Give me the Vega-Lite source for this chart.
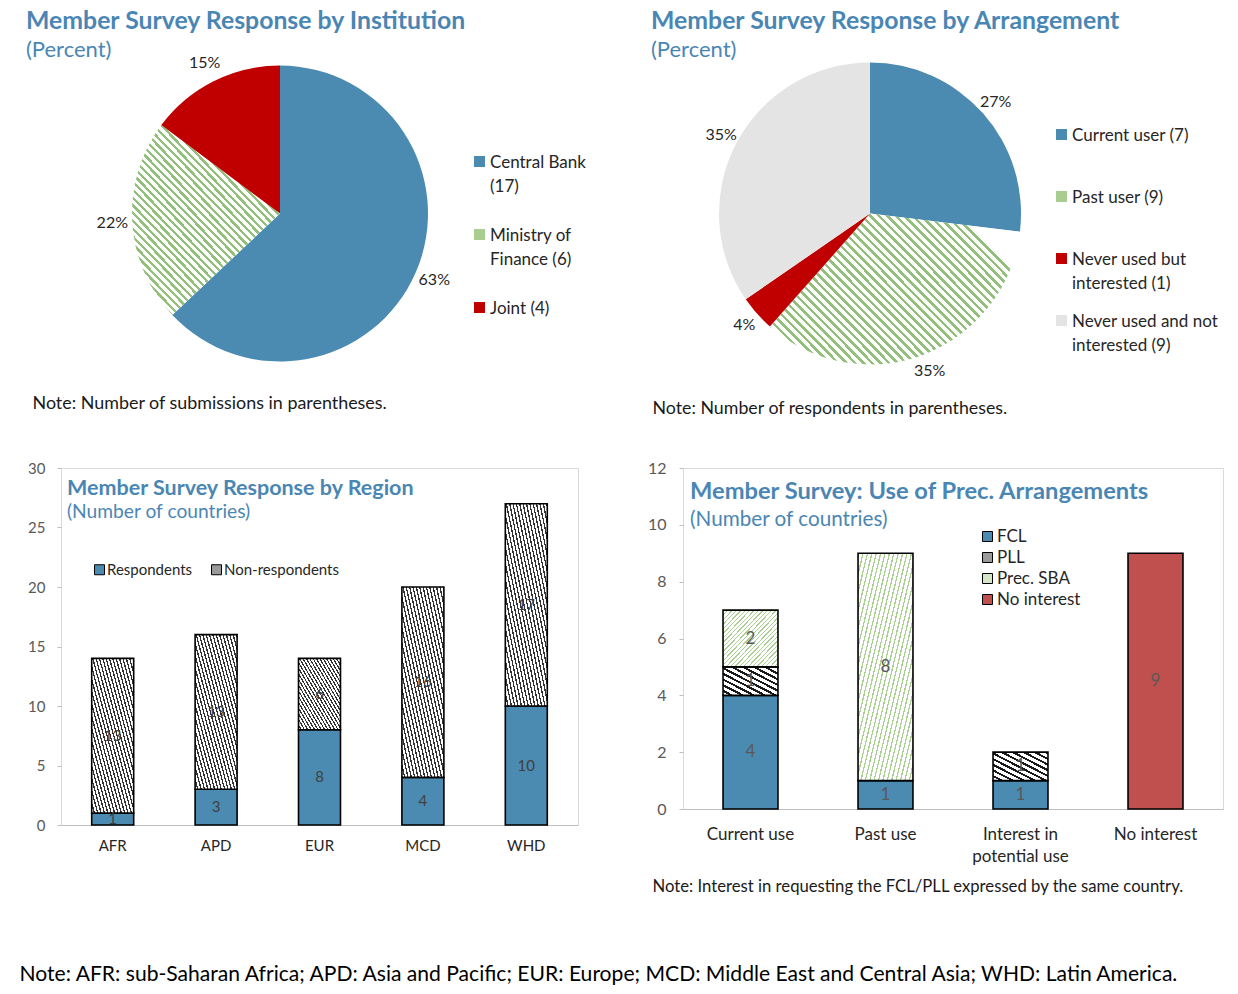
{
  "$schema": "https://vega.github.io/schema/vega-lite/v6.json",
  "background": "white",
  "padding": {"left": 18, "top": 9, "right": 4, "bottom": 4},
  "columns": 2,
  "bounds": "flush",
  "align": "each",
  "spacing": {"row": 106, "column": 105},
  "resolve": {"scale": {"fill": "independent", "theta": "independent"}, "legend": {"fill": "independent"}},
  "config": {
    "font": "Lato",
    "view": {"stroke": null},
    "axis": {"grid": false, "labelFont": "Lato", "titleFont": "Lato"},
    "legend": {"labelFont": "Lato", "padding": 0},
    "title": {"font": "Lato", "subtitleFont": "Lato", "color": "#4a86b4", "subtitleColor": "#4a86b4", "fontWeight": "bold", "anchor": "start", "frame": "group"}
  },
  "concat": [
    {
      "width": 438,
      "height": 297,
      "title": {"text": "Member Survey Response by Institution", "subtitle": "(Percent)", "fontSize": 24.8, "subtitleFontSize": 22, "subtitlePadding": 6.4, "dx": -35, "offset": -6},
      "data": {"values": [
        {"cat": "Central Bank (17)", "n": 17, "pct": "63%"},
        {"cat": "Ministry of Finance (6)", "n": 6, "pct": "22%"},
        {"cat": "Joint (4)", "n": 4, "pct": "15%"}
      ]},
      "layer": [
        {
          "mark": {"type": "arc", "outerRadius": 148},
          "encoding": {
            "theta": {"field": "n", "type": "quantitative", "stack": true},
            "order": {"field": "n", "type": "quantitative", "sort": "descending"},
            "fill": {
              "field": "cat", "type": "nominal",
              "scale": {"domain": ["Central Bank (17)", "Ministry of Finance (6)", "Joint (4)"], "range": ["#4b8bb1", "#a9cc8f", "#c00000"]},
              "condition": {"test": "datum.cat === 'Ministry of Finance (6)'", "value": {"gradient": "linear", "x1": 0, "y1": 1, "x2": 0.8, "y2": 0, "stops": [
                {"offset":0,"color":"#92c07a"},{"offset":0.0105,"color":"#92c07a"},{"offset":0.0105,"color":"#fff"},{"offset":0.025,"color":"#fff"},
                {"offset":0.025,"color":"#92c07a"},{"offset":0.0355,"color":"#92c07a"},{"offset":0.0355,"color":"#fff"},{"offset":0.05,"color":"#fff"},
                {"offset":0.05,"color":"#92c07a"},{"offset":0.0605,"color":"#92c07a"},{"offset":0.0605,"color":"#fff"},{"offset":0.075,"color":"#fff"},
                {"offset":0.075,"color":"#92c07a"},{"offset":0.0855,"color":"#92c07a"},{"offset":0.0855,"color":"#fff"},{"offset":0.1,"color":"#fff"},
                {"offset":0.1,"color":"#92c07a"},{"offset":0.1105,"color":"#92c07a"},{"offset":0.1105,"color":"#fff"},{"offset":0.125,"color":"#fff"},
                {"offset":0.125,"color":"#92c07a"},{"offset":0.1355,"color":"#92c07a"},{"offset":0.1355,"color":"#fff"},{"offset":0.15,"color":"#fff"},
                {"offset":0.15,"color":"#92c07a"},{"offset":0.1605,"color":"#92c07a"},{"offset":0.1605,"color":"#fff"},{"offset":0.175,"color":"#fff"},
                {"offset":0.175,"color":"#92c07a"},{"offset":0.1855,"color":"#92c07a"},{"offset":0.1855,"color":"#fff"},{"offset":0.2,"color":"#fff"},
                {"offset":0.2,"color":"#92c07a"},{"offset":0.2105,"color":"#92c07a"},{"offset":0.2105,"color":"#fff"},{"offset":0.225,"color":"#fff"},
                {"offset":0.225,"color":"#92c07a"},{"offset":0.2355,"color":"#92c07a"},{"offset":0.2355,"color":"#fff"},{"offset":0.25,"color":"#fff"},
                {"offset":0.25,"color":"#92c07a"},{"offset":0.2605,"color":"#92c07a"},{"offset":0.2605,"color":"#fff"},{"offset":0.275,"color":"#fff"},
                {"offset":0.275,"color":"#92c07a"},{"offset":0.2855,"color":"#92c07a"},{"offset":0.2855,"color":"#fff"},{"offset":0.3,"color":"#fff"},
                {"offset":0.3,"color":"#92c07a"},{"offset":0.3105,"color":"#92c07a"},{"offset":0.3105,"color":"#fff"},{"offset":0.325,"color":"#fff"},
                {"offset":0.325,"color":"#92c07a"},{"offset":0.3355,"color":"#92c07a"},{"offset":0.3355,"color":"#fff"},{"offset":0.35,"color":"#fff"},
                {"offset":0.35,"color":"#92c07a"},{"offset":0.3605,"color":"#92c07a"},{"offset":0.3605,"color":"#fff"},{"offset":0.375,"color":"#fff"},
                {"offset":0.375,"color":"#92c07a"},{"offset":0.3855,"color":"#92c07a"},{"offset":0.3855,"color":"#fff"},{"offset":0.4,"color":"#fff"},
                {"offset":0.4,"color":"#92c07a"},{"offset":0.4105,"color":"#92c07a"},{"offset":0.4105,"color":"#fff"},{"offset":0.425,"color":"#fff"},
                {"offset":0.425,"color":"#92c07a"},{"offset":0.4355,"color":"#92c07a"},{"offset":0.4355,"color":"#fff"},{"offset":0.45,"color":"#fff"},
                {"offset":0.45,"color":"#92c07a"},{"offset":0.4605,"color":"#92c07a"},{"offset":0.4605,"color":"#fff"},{"offset":0.475,"color":"#fff"},
                {"offset":0.475,"color":"#92c07a"},{"offset":0.4855,"color":"#92c07a"},{"offset":0.4855,"color":"#fff"},{"offset":0.5,"color":"#fff"},
                {"offset":0.5,"color":"#92c07a"},{"offset":0.5105,"color":"#92c07a"},{"offset":0.5105,"color":"#fff"},{"offset":0.525,"color":"#fff"},
                {"offset":0.525,"color":"#92c07a"},{"offset":0.5355,"color":"#92c07a"},{"offset":0.5355,"color":"#fff"},{"offset":0.55,"color":"#fff"},
                {"offset":0.55,"color":"#92c07a"},{"offset":0.5605,"color":"#92c07a"},{"offset":0.5605,"color":"#fff"},{"offset":0.575,"color":"#fff"},
                {"offset":0.575,"color":"#92c07a"},{"offset":0.5855,"color":"#92c07a"},{"offset":0.5855,"color":"#fff"},{"offset":0.6,"color":"#fff"},
                {"offset":0.6,"color":"#92c07a"},{"offset":0.6105,"color":"#92c07a"},{"offset":0.6105,"color":"#fff"},{"offset":0.625,"color":"#fff"},
                {"offset":0.625,"color":"#92c07a"},{"offset":0.6355,"color":"#92c07a"},{"offset":0.6355,"color":"#fff"},{"offset":0.65,"color":"#fff"},
                {"offset":0.65,"color":"#92c07a"},{"offset":0.6605,"color":"#92c07a"},{"offset":0.6605,"color":"#fff"},{"offset":0.675,"color":"#fff"},
                {"offset":0.675,"color":"#92c07a"},{"offset":0.6855,"color":"#92c07a"},{"offset":0.6855,"color":"#fff"},{"offset":0.7,"color":"#fff"},
                {"offset":0.7,"color":"#92c07a"},{"offset":0.7105,"color":"#92c07a"},{"offset":0.7105,"color":"#fff"},{"offset":0.725,"color":"#fff"},
                {"offset":0.725,"color":"#92c07a"},{"offset":0.7355,"color":"#92c07a"},{"offset":0.7355,"color":"#fff"},{"offset":0.75,"color":"#fff"},
                {"offset":0.75,"color":"#92c07a"},{"offset":0.7605,"color":"#92c07a"},{"offset":0.7605,"color":"#fff"},{"offset":0.775,"color":"#fff"},
                {"offset":0.775,"color":"#92c07a"},{"offset":0.7855,"color":"#92c07a"},{"offset":0.7855,"color":"#fff"},{"offset":0.8,"color":"#fff"},
                {"offset":0.8,"color":"#92c07a"},{"offset":0.8105,"color":"#92c07a"},{"offset":0.8105,"color":"#fff"},{"offset":0.825,"color":"#fff"},
                {"offset":0.825,"color":"#92c07a"},{"offset":0.8355,"color":"#92c07a"},{"offset":0.8355,"color":"#fff"},{"offset":0.85,"color":"#fff"},
                {"offset":0.85,"color":"#92c07a"},{"offset":0.8605,"color":"#92c07a"},{"offset":0.8605,"color":"#fff"},{"offset":0.875,"color":"#fff"},
                {"offset":0.875,"color":"#92c07a"},{"offset":0.8855,"color":"#92c07a"},{"offset":0.8855,"color":"#fff"},{"offset":0.9,"color":"#fff"},
                {"offset":0.9,"color":"#92c07a"},{"offset":0.9105,"color":"#92c07a"},{"offset":0.9105,"color":"#fff"},{"offset":0.925,"color":"#fff"},
                {"offset":0.925,"color":"#92c07a"},{"offset":0.9355,"color":"#92c07a"},{"offset":0.9355,"color":"#fff"},{"offset":0.95,"color":"#fff"},
                {"offset":0.95,"color":"#92c07a"},{"offset":0.9605,"color":"#92c07a"},{"offset":0.9605,"color":"#fff"},{"offset":0.975,"color":"#fff"},
                {"offset":0.975,"color":"#92c07a"},{"offset":0.9855,"color":"#92c07a"},{"offset":0.9855,"color":"#fff"},{"offset":1,"color":"#fff"}
              ]}},
              "legend": {
                "title": null, "orient": "none", "legendX": 410, "legendY": 88,
                "symbolType": "square", "symbolSize": 121, "symbolStrokeWidth": 0,
                "labelFontSize": 17, "labelColor": "#262626", "labelOffset": 2, "labelLimit": 300,
                "rowPadding": 31, "gridAlign": "all", "labelBaseline": "top",
                "labelExpr": "datum.label === 'Central Bank (17)' ? ['Central Bank', '(17)'] : datum.label === 'Ministry of Finance (6)' ? ['Ministry of', 'Finance (6)'] : datum.label",
                "encode": {"labels": {"update": {"dy": {"value": -7}, "lineHeight": {"value": 24}}}}
              }
            }
          }
        },
        {
          "mark": {"type": "text", "radius": 168, "fontSize": 16, "color": "#262626"},
          "encoding": {
            "theta": {"field": "n", "type": "quantitative", "stack": true},
            "order": {"field": "n", "type": "quantitative", "sort": "descending"},
            "detail": {"field": "cat", "type": "nominal"},
            "text": {"field": "pct", "type": "nominal"}
          }
        },
        {
          "mark": {"type": "point", "opacity": 0},
          "encoding": {
            "x": {"field": "n", "type": "quantitative", "axis": {
              "title": "Note: Number of submissions in parentheses.", "labels": false, "ticks": false, "domain": false, "grid": false,
              "titleAnchor": "start", "titleAlign": "left", "titleBaseline": "middle", "titleX": -29, "titleY": 41,
              "titleFontSize": 17.9, "titleFontWeight": "normal", "titleColor": "#1a1a1a", "titleLimit": 1000}}
          }
        }
      ]
    },
    {
      "width": 374,
      "height": 297,
      "title": {"text": "Member Survey Response by Arrangement", "subtitle": "(Percent)", "fontSize": 24.8, "subtitleFontSize": 22, "subtitlePadding": 5.4, "dx": -32, "offset": 2},
      "data": {"values": [
        {"cat": "Current user (7)", "n": 7, "pct": "27%", "k": 1},
        {"cat": "Past user (9)", "n": 9, "pct": "35%", "k": 2},
        {"cat": "Never used but interested (1)", "n": 1, "pct": "4%", "k": 3},
        {"cat": "Never used and not interested (9)", "n": 9, "pct": "35%", "k": 4}
      ]},
      "layer": [
        {
          "mark": {"type": "arc", "outerRadius": 151},
          "encoding": {
            "theta": {"field": "n", "type": "quantitative", "stack": true},
            "order": {"field": "k", "type": "quantitative"},
            "fill": {
              "field": "cat", "type": "nominal",
              "scale": {"domain": ["Current user (7)", "Past user (9)", "Never used but interested (1)", "Never used and not interested (9)"], "range": ["#4b8bb1", "#a9cc8f", "#c00000", "#e4e4e4"]},
              "condition": {"test": "datum.cat === 'Past user (9)'", "value": {"gradient": "linear", "x1": 0, "y1": 1, "x2": 1, "y2": 0.4, "stops": [
                {"offset":0,"color":"#92c07a"},{"offset":0.0105,"color":"#92c07a"},{"offset":0.0105,"color":"#fff"},{"offset":0.025,"color":"#fff"},
                {"offset":0.025,"color":"#92c07a"},{"offset":0.0355,"color":"#92c07a"},{"offset":0.0355,"color":"#fff"},{"offset":0.05,"color":"#fff"},
                {"offset":0.05,"color":"#92c07a"},{"offset":0.0605,"color":"#92c07a"},{"offset":0.0605,"color":"#fff"},{"offset":0.075,"color":"#fff"},
                {"offset":0.075,"color":"#92c07a"},{"offset":0.0855,"color":"#92c07a"},{"offset":0.0855,"color":"#fff"},{"offset":0.1,"color":"#fff"},
                {"offset":0.1,"color":"#92c07a"},{"offset":0.1105,"color":"#92c07a"},{"offset":0.1105,"color":"#fff"},{"offset":0.125,"color":"#fff"},
                {"offset":0.125,"color":"#92c07a"},{"offset":0.1355,"color":"#92c07a"},{"offset":0.1355,"color":"#fff"},{"offset":0.15,"color":"#fff"},
                {"offset":0.15,"color":"#92c07a"},{"offset":0.1605,"color":"#92c07a"},{"offset":0.1605,"color":"#fff"},{"offset":0.175,"color":"#fff"},
                {"offset":0.175,"color":"#92c07a"},{"offset":0.1855,"color":"#92c07a"},{"offset":0.1855,"color":"#fff"},{"offset":0.2,"color":"#fff"},
                {"offset":0.2,"color":"#92c07a"},{"offset":0.2105,"color":"#92c07a"},{"offset":0.2105,"color":"#fff"},{"offset":0.225,"color":"#fff"},
                {"offset":0.225,"color":"#92c07a"},{"offset":0.2355,"color":"#92c07a"},{"offset":0.2355,"color":"#fff"},{"offset":0.25,"color":"#fff"},
                {"offset":0.25,"color":"#92c07a"},{"offset":0.2605,"color":"#92c07a"},{"offset":0.2605,"color":"#fff"},{"offset":0.275,"color":"#fff"},
                {"offset":0.275,"color":"#92c07a"},{"offset":0.2855,"color":"#92c07a"},{"offset":0.2855,"color":"#fff"},{"offset":0.3,"color":"#fff"},
                {"offset":0.3,"color":"#92c07a"},{"offset":0.3105,"color":"#92c07a"},{"offset":0.3105,"color":"#fff"},{"offset":0.325,"color":"#fff"},
                {"offset":0.325,"color":"#92c07a"},{"offset":0.3355,"color":"#92c07a"},{"offset":0.3355,"color":"#fff"},{"offset":0.35,"color":"#fff"},
                {"offset":0.35,"color":"#92c07a"},{"offset":0.3605,"color":"#92c07a"},{"offset":0.3605,"color":"#fff"},{"offset":0.375,"color":"#fff"},
                {"offset":0.375,"color":"#92c07a"},{"offset":0.3855,"color":"#92c07a"},{"offset":0.3855,"color":"#fff"},{"offset":0.4,"color":"#fff"},
                {"offset":0.4,"color":"#92c07a"},{"offset":0.4105,"color":"#92c07a"},{"offset":0.4105,"color":"#fff"},{"offset":0.425,"color":"#fff"},
                {"offset":0.425,"color":"#92c07a"},{"offset":0.4355,"color":"#92c07a"},{"offset":0.4355,"color":"#fff"},{"offset":0.45,"color":"#fff"},
                {"offset":0.45,"color":"#92c07a"},{"offset":0.4605,"color":"#92c07a"},{"offset":0.4605,"color":"#fff"},{"offset":0.475,"color":"#fff"},
                {"offset":0.475,"color":"#92c07a"},{"offset":0.4855,"color":"#92c07a"},{"offset":0.4855,"color":"#fff"},{"offset":0.5,"color":"#fff"},
                {"offset":0.5,"color":"#92c07a"},{"offset":0.5105,"color":"#92c07a"},{"offset":0.5105,"color":"#fff"},{"offset":0.525,"color":"#fff"},
                {"offset":0.525,"color":"#92c07a"},{"offset":0.5355,"color":"#92c07a"},{"offset":0.5355,"color":"#fff"},{"offset":0.55,"color":"#fff"},
                {"offset":0.55,"color":"#92c07a"},{"offset":0.5605,"color":"#92c07a"},{"offset":0.5605,"color":"#fff"},{"offset":0.575,"color":"#fff"},
                {"offset":0.575,"color":"#92c07a"},{"offset":0.5855,"color":"#92c07a"},{"offset":0.5855,"color":"#fff"},{"offset":0.6,"color":"#fff"},
                {"offset":0.6,"color":"#92c07a"},{"offset":0.6105,"color":"#92c07a"},{"offset":0.6105,"color":"#fff"},{"offset":0.625,"color":"#fff"},
                {"offset":0.625,"color":"#92c07a"},{"offset":0.6355,"color":"#92c07a"},{"offset":0.6355,"color":"#fff"},{"offset":0.65,"color":"#fff"},
                {"offset":0.65,"color":"#92c07a"},{"offset":0.6605,"color":"#92c07a"},{"offset":0.6605,"color":"#fff"},{"offset":0.675,"color":"#fff"},
                {"offset":0.675,"color":"#92c07a"},{"offset":0.6855,"color":"#92c07a"},{"offset":0.6855,"color":"#fff"},{"offset":0.7,"color":"#fff"},
                {"offset":0.7,"color":"#92c07a"},{"offset":0.7105,"color":"#92c07a"},{"offset":0.7105,"color":"#fff"},{"offset":0.725,"color":"#fff"},
                {"offset":0.725,"color":"#92c07a"},{"offset":0.7355,"color":"#92c07a"},{"offset":0.7355,"color":"#fff"},{"offset":0.75,"color":"#fff"},
                {"offset":0.75,"color":"#92c07a"},{"offset":0.7605,"color":"#92c07a"},{"offset":0.7605,"color":"#fff"},{"offset":0.775,"color":"#fff"},
                {"offset":0.775,"color":"#92c07a"},{"offset":0.7855,"color":"#92c07a"},{"offset":0.7855,"color":"#fff"},{"offset":0.8,"color":"#fff"},
                {"offset":0.8,"color":"#92c07a"},{"offset":0.8105,"color":"#92c07a"},{"offset":0.8105,"color":"#fff"},{"offset":0.825,"color":"#fff"},
                {"offset":0.825,"color":"#92c07a"},{"offset":0.8355,"color":"#92c07a"},{"offset":0.8355,"color":"#fff"},{"offset":0.85,"color":"#fff"},
                {"offset":0.85,"color":"#92c07a"},{"offset":0.8605,"color":"#92c07a"},{"offset":0.8605,"color":"#fff"},{"offset":0.875,"color":"#fff"},
                {"offset":0.875,"color":"#92c07a"},{"offset":0.8855,"color":"#92c07a"},{"offset":0.8855,"color":"#fff"},{"offset":0.9,"color":"#fff"},
                {"offset":0.9,"color":"#92c07a"},{"offset":0.9105,"color":"#92c07a"},{"offset":0.9105,"color":"#fff"},{"offset":0.925,"color":"#fff"},
                {"offset":0.925,"color":"#92c07a"},{"offset":0.9355,"color":"#92c07a"},{"offset":0.9355,"color":"#fff"},{"offset":0.95,"color":"#fff"},
                {"offset":0.95,"color":"#92c07a"},{"offset":0.9605,"color":"#92c07a"},{"offset":0.9605,"color":"#fff"},{"offset":0.975,"color":"#fff"},
                {"offset":0.975,"color":"#92c07a"},{"offset":0.9855,"color":"#92c07a"},{"offset":0.9855,"color":"#fff"},{"offset":1,"color":"#fff"}
              ]}},
              "legend": {
                "title": null, "orient": "none", "legendX": 370, "legendY": 61,
                "symbolType": "square", "symbolSize": 121, "symbolStrokeWidth": 0,
                "labelFontSize": 17, "labelColor": "#262626", "labelOffset": 2, "labelLimit": 300,
                "rowPadding": 20, "gridAlign": "all", "labelBaseline": "top",
                "labelExpr": "datum.label === 'Never used but interested (1)' ? ['Never used but', 'interested (1)'] : datum.label === 'Never used and not interested (9)' ? ['Never used and not', 'interested (9)'] : datum.label",
                "encode": {"labels": {"update": {"dy": {"value": -7}, "lineHeight": {"value": 24}}}}
              }
            }
          }
        },
        {
          "mark": {"type": "text", "radius": 168, "fontSize": 16, "color": "#262626"},
          "encoding": {
            "theta": {"field": "n", "type": "quantitative", "stack": true},
            "order": {"field": "k", "type": "quantitative"},
            "detail": {"field": "cat", "type": "nominal"},
            "text": {"field": "pct", "type": "nominal"}
          }
        },
        {
          "mark": {"type": "point", "opacity": 0},
          "encoding": {
            "x": {"field": "n", "type": "quantitative", "axis": {
              "title": "Note: Number of respondents in parentheses.", "labels": false, "ticks": false, "domain": false, "grid": false,
              "titleAnchor": "start", "titleAlign": "left", "titleBaseline": "middle", "titleX": -31, "titleY": 46,
              "titleFontSize": 17.8, "titleFontWeight": "normal", "titleColor": "#1a1a1a", "titleLimit": 1000}}
          }
        }
      ]
    },
    {
      "width": 517,
      "height": 357,
      "view": {"stroke": "#d9d9d9"},
      "title": {"text": "Member Survey Response by Region", "subtitle": "(Number of countries)", "fontSize": 21.5, "subtitleFontSize": 19.2, "subtitlePadding": 4.3, "dx": 6, "offset": -61.5},
      "data": {"values": [
        {"region": "AFR", "series": "Respondents", "v": 1},
        {"region": "AFR", "series": "Non-respondents", "v": 13},
        {"region": "APD", "series": "Respondents", "v": 3},
        {"region": "APD", "series": "Non-respondents", "v": 13},
        {"region": "EUR", "series": "Respondents", "v": 8},
        {"region": "EUR", "series": "Non-respondents", "v": 6},
        {"region": "MCD", "series": "Respondents", "v": 4},
        {"region": "MCD", "series": "Non-respondents", "v": 16},
        {"region": "WHD", "series": "Respondents", "v": 10},
        {"region": "WHD", "series": "Non-respondents", "v": 17}
      ]},
      "encoding": {
        "x": {"field": "region", "type": "nominal", "scale": {"paddingInner": 0.594, "paddingOuter": 0.297},
          "axis": {"title": "Note: AFR: sub-Saharan Africa; APD: Asia and Pacific; EUR: Europe; MCD: Middle East and Central Asia; WHD: Latin America.",
            "labelAngle": 0, "labelFontSize": 15, "labelColor": "#262626", "labelPadding": 13, "ticks": false, "domain": true, "domainColor": "#bfbfbf",
            "titleAnchor": "start", "titleAlign": "left", "titleBaseline": "middle", "titleX": -42, "titleY": 149,
            "titleFontSize": 21.1, "titleFontWeight": "normal", "titleColor": "#000000", "titleLimit": 1300}}
      },
      "layer": [
        {
          "mark": {"type": "bar", "stroke": "#000000", "strokeWidth": 1.6},
          "encoding": {
            "y": {"field": "v", "type": "quantitative", "stack": "zero", "scale": {"domain": [0, 30]},
              "axis": {"title": null, "values": [0, 5, 10, 15, 20, 25, 30], "domain": false, "ticks": true, "tickSize": 4, "tickColor": "#bfbfbf", "labelColor": "#595959", "labelFontSize": 15, "labelPadding": 12}},
            "order": {"field": "series", "type": "nominal", "sort": "descending"},
            "fill": {
              "field": "series", "type": "nominal",
              "scale": {"domain": ["Respondents", "Non-respondents"], "range": ["#4b8bb1", "#9a9a9a"]},
              "condition": {"test": "datum.series === 'Non-respondents'", "value": {"gradient": "linear", "x1": 1, "y1": 0, "x2": 0, "y2": 1, "stops": [
                {"offset":0,"color":"#333"},{"offset":0.016,"color":"#333"},{"offset":0.016,"color":"#fff"},{"offset":0.04,"color":"#fff"},
                {"offset":0.04,"color":"#333"},{"offset":0.056,"color":"#333"},{"offset":0.056,"color":"#fff"},{"offset":0.08,"color":"#fff"},
                {"offset":0.08,"color":"#333"},{"offset":0.096,"color":"#333"},{"offset":0.096,"color":"#fff"},{"offset":0.12,"color":"#fff"},
                {"offset":0.12,"color":"#333"},{"offset":0.136,"color":"#333"},{"offset":0.136,"color":"#fff"},{"offset":0.16,"color":"#fff"},
                {"offset":0.16,"color":"#333"},{"offset":0.176,"color":"#333"},{"offset":0.176,"color":"#fff"},{"offset":0.2,"color":"#fff"},
                {"offset":0.2,"color":"#333"},{"offset":0.216,"color":"#333"},{"offset":0.216,"color":"#fff"},{"offset":0.24,"color":"#fff"},
                {"offset":0.24,"color":"#333"},{"offset":0.256,"color":"#333"},{"offset":0.256,"color":"#fff"},{"offset":0.28,"color":"#fff"},
                {"offset":0.28,"color":"#333"},{"offset":0.296,"color":"#333"},{"offset":0.296,"color":"#fff"},{"offset":0.32,"color":"#fff"},
                {"offset":0.32,"color":"#333"},{"offset":0.336,"color":"#333"},{"offset":0.336,"color":"#fff"},{"offset":0.36,"color":"#fff"},
                {"offset":0.36,"color":"#333"},{"offset":0.376,"color":"#333"},{"offset":0.376,"color":"#fff"},{"offset":0.4,"color":"#fff"},
                {"offset":0.4,"color":"#333"},{"offset":0.416,"color":"#333"},{"offset":0.416,"color":"#fff"},{"offset":0.44,"color":"#fff"},
                {"offset":0.44,"color":"#333"},{"offset":0.456,"color":"#333"},{"offset":0.456,"color":"#fff"},{"offset":0.48,"color":"#fff"},
                {"offset":0.48,"color":"#333"},{"offset":0.496,"color":"#333"},{"offset":0.496,"color":"#fff"},{"offset":0.52,"color":"#fff"},
                {"offset":0.52,"color":"#333"},{"offset":0.536,"color":"#333"},{"offset":0.536,"color":"#fff"},{"offset":0.56,"color":"#fff"},
                {"offset":0.56,"color":"#333"},{"offset":0.576,"color":"#333"},{"offset":0.576,"color":"#fff"},{"offset":0.6,"color":"#fff"},
                {"offset":0.6,"color":"#333"},{"offset":0.616,"color":"#333"},{"offset":0.616,"color":"#fff"},{"offset":0.64,"color":"#fff"},
                {"offset":0.64,"color":"#333"},{"offset":0.656,"color":"#333"},{"offset":0.656,"color":"#fff"},{"offset":0.68,"color":"#fff"},
                {"offset":0.68,"color":"#333"},{"offset":0.696,"color":"#333"},{"offset":0.696,"color":"#fff"},{"offset":0.72,"color":"#fff"},
                {"offset":0.72,"color":"#333"},{"offset":0.736,"color":"#333"},{"offset":0.736,"color":"#fff"},{"offset":0.76,"color":"#fff"},
                {"offset":0.76,"color":"#333"},{"offset":0.776,"color":"#333"},{"offset":0.776,"color":"#fff"},{"offset":0.8,"color":"#fff"},
                {"offset":0.8,"color":"#333"},{"offset":0.816,"color":"#333"},{"offset":0.816,"color":"#fff"},{"offset":0.84,"color":"#fff"},
                {"offset":0.84,"color":"#333"},{"offset":0.856,"color":"#333"},{"offset":0.856,"color":"#fff"},{"offset":0.88,"color":"#fff"},
                {"offset":0.88,"color":"#333"},{"offset":0.896,"color":"#333"},{"offset":0.896,"color":"#fff"},{"offset":0.92,"color":"#fff"},
                {"offset":0.92,"color":"#333"},{"offset":0.936,"color":"#333"},{"offset":0.936,"color":"#fff"},{"offset":0.96,"color":"#fff"},
                {"offset":0.96,"color":"#333"},{"offset":0.976,"color":"#333"},{"offset":0.976,"color":"#fff"},{"offset":1,"color":"#fff"}
              ]}},
              "legend": {
                "title": null, "orient": "none", "legendX": 31, "legendY": 94, "direction": "horizontal",
                "symbolType": "square", "symbolSize": 100, "symbolStrokeColor": "#000000", "symbolStrokeWidth": 1,
                "labelFontSize": 15, "labelColor": "#262626", "labelOffset": 0, "columnPadding": 16
              }
            }
          }
        },
        {
          "mark": {"type": "text", "fontSize": 15, "color": "#404040"},
          "encoding": {
            "y": {"field": "v", "type": "quantitative", "stack": "zero", "bandPosition": 0.5, "title": null},
            "order": {"field": "series", "type": "nominal", "sort": "descending"},
            "detail": {"field": "series", "type": "nominal"},
            "text": {"field": "v", "type": "quantitative"}
          }
        }
      ]
    },
    {
      "width": 540,
      "height": 341,
      "view": {"stroke": "#d9d9d9"},
      "title": {"text": "Member Survey: Use of Prec. Arrangements", "subtitle": "(Number of countries)", "fontSize": 23.7, "subtitleFontSize": 20.7, "subtitlePadding": 6.6, "dx": 7, "offset": -70},
      "data": {"values": [
        {"use": "Current use", "series": "FCL", "v": 4},
        {"use": "Current use", "series": "PLL", "v": 1},
        {"use": "Current use", "series": "Prec. SBA", "v": 2},
        {"use": "Past use", "series": "FCL", "v": 1},
        {"use": "Past use", "series": "Prec. SBA", "v": 8},
        {"use": "Interest in potential use", "series": "FCL", "v": 1},
        {"use": "Interest in potential use", "series": "PLL", "v": 1},
        {"use": "No interest", "series": "No interest", "v": 9}
      ]},
      "encoding": {
        "x": {"field": "use", "type": "nominal", "sort": ["Current use", "Past use", "Interest in potential use", "No interest"],
          "scale": {"paddingInner": 0.593, "paddingOuter": 0.2965},
          "axis": {"title": "Note: Interest in requesting the FCL/PLL expressed by the same country.",
            "labelAngle": 0, "labelFontSize": 17, "labelColor": "#262626", "labelPadding": 17, "labelLineHeight": 22,
            "labelExpr": "datum.label === 'Interest in potential use' ? ['Interest in', 'potential use'] : datum.label",
            "ticks": false, "domain": true, "domainColor": "#bfbfbf",
            "titleAnchor": "start", "titleAlign": "left", "titleBaseline": "middle", "titleX": -31, "titleY": 77,
            "titleFontSize": 16.7, "titleFontWeight": "normal", "titleColor": "#1a1a1a", "titleLimit": 1000}}
      },
      "layer": [
        {
          "mark": {"type": "bar", "stroke": "#000000", "strokeWidth": 1.6},
          "encoding": {
            "y": {"field": "v", "type": "quantitative", "stack": "zero", "scale": {"domain": [0, 12]},
              "axis": {"title": null, "values": [0, 2, 4, 6, 8, 10, 12], "domain": false, "ticks": true, "tickSize": 4, "tickColor": "#bfbfbf", "labelColor": "#595959", "labelFontSize": 16, "labelPadding": 13}},
            "order": {"field": "series", "type": "nominal", "sort": "ascending"},
            "fill": {
              "field": "series", "type": "nominal",
              "scale": {"domain": ["FCL", "PLL", "Prec. SBA", "No interest"], "range": ["#4b8bb1", "#9a9a9a", "#d5e6c8", "#c0504d"]},
              "condition": [
                {"test": "datum.series === 'PLL'", "value": {"gradient": "linear", "x1": 1, "y1": 0, "x2": 0, "y2": 1, "stops": [
                  {"offset":0,"color":"#1a1a1a"},{"offset":0.04,"color":"#1a1a1a"},{"offset":0.04,"color":"#fff"},{"offset":0.1,"color":"#fff"},
                  {"offset":0.1,"color":"#1a1a1a"},{"offset":0.14,"color":"#1a1a1a"},{"offset":0.14,"color":"#fff"},{"offset":0.2,"color":"#fff"},
                  {"offset":0.2,"color":"#1a1a1a"},{"offset":0.24,"color":"#1a1a1a"},{"offset":0.24,"color":"#fff"},{"offset":0.3,"color":"#fff"},
                  {"offset":0.3,"color":"#1a1a1a"},{"offset":0.34,"color":"#1a1a1a"},{"offset":0.34,"color":"#fff"},{"offset":0.4,"color":"#fff"},
                  {"offset":0.4,"color":"#1a1a1a"},{"offset":0.44,"color":"#1a1a1a"},{"offset":0.44,"color":"#fff"},{"offset":0.5,"color":"#fff"},
                  {"offset":0.5,"color":"#1a1a1a"},{"offset":0.54,"color":"#1a1a1a"},{"offset":0.54,"color":"#fff"},{"offset":0.6,"color":"#fff"},
                  {"offset":0.6,"color":"#1a1a1a"},{"offset":0.64,"color":"#1a1a1a"},{"offset":0.64,"color":"#fff"},{"offset":0.7,"color":"#fff"},
                  {"offset":0.7,"color":"#1a1a1a"},{"offset":0.74,"color":"#1a1a1a"},{"offset":0.74,"color":"#fff"},{"offset":0.8,"color":"#fff"},
                  {"offset":0.8,"color":"#1a1a1a"},{"offset":0.84,"color":"#1a1a1a"},{"offset":0.84,"color":"#fff"},{"offset":0.9,"color":"#fff"},
                  {"offset":0.9,"color":"#1a1a1a"},{"offset":0.94,"color":"#1a1a1a"},{"offset":0.94,"color":"#fff"},{"offset":1,"color":"#fff"}
                ]}},
                {"test": "datum.series === 'Prec. SBA'", "value": {"gradient": "linear", "x1": 0, "y1": 0, "x2": 1, "y2": 1, "stops": [
                  {"offset":0,"color":"#acd093"},{"offset":0.012,"color":"#acd093"},{"offset":0.012,"color":"#fff"},{"offset":0.04,"color":"#fff"},
                  {"offset":0.04,"color":"#acd093"},{"offset":0.052,"color":"#acd093"},{"offset":0.052,"color":"#fff"},{"offset":0.08,"color":"#fff"},
                  {"offset":0.08,"color":"#acd093"},{"offset":0.092,"color":"#acd093"},{"offset":0.092,"color":"#fff"},{"offset":0.12,"color":"#fff"},
                  {"offset":0.12,"color":"#acd093"},{"offset":0.132,"color":"#acd093"},{"offset":0.132,"color":"#fff"},{"offset":0.16,"color":"#fff"},
                  {"offset":0.16,"color":"#acd093"},{"offset":0.172,"color":"#acd093"},{"offset":0.172,"color":"#fff"},{"offset":0.2,"color":"#fff"},
                  {"offset":0.2,"color":"#acd093"},{"offset":0.212,"color":"#acd093"},{"offset":0.212,"color":"#fff"},{"offset":0.24,"color":"#fff"},
                  {"offset":0.24,"color":"#acd093"},{"offset":0.252,"color":"#acd093"},{"offset":0.252,"color":"#fff"},{"offset":0.28,"color":"#fff"},
                  {"offset":0.28,"color":"#acd093"},{"offset":0.292,"color":"#acd093"},{"offset":0.292,"color":"#fff"},{"offset":0.32,"color":"#fff"},
                  {"offset":0.32,"color":"#acd093"},{"offset":0.332,"color":"#acd093"},{"offset":0.332,"color":"#fff"},{"offset":0.36,"color":"#fff"},
                  {"offset":0.36,"color":"#acd093"},{"offset":0.372,"color":"#acd093"},{"offset":0.372,"color":"#fff"},{"offset":0.4,"color":"#fff"},
                  {"offset":0.4,"color":"#acd093"},{"offset":0.412,"color":"#acd093"},{"offset":0.412,"color":"#fff"},{"offset":0.44,"color":"#fff"},
                  {"offset":0.44,"color":"#acd093"},{"offset":0.452,"color":"#acd093"},{"offset":0.452,"color":"#fff"},{"offset":0.48,"color":"#fff"},
                  {"offset":0.48,"color":"#acd093"},{"offset":0.492,"color":"#acd093"},{"offset":0.492,"color":"#fff"},{"offset":0.52,"color":"#fff"},
                  {"offset":0.52,"color":"#acd093"},{"offset":0.532,"color":"#acd093"},{"offset":0.532,"color":"#fff"},{"offset":0.56,"color":"#fff"},
                  {"offset":0.56,"color":"#acd093"},{"offset":0.572,"color":"#acd093"},{"offset":0.572,"color":"#fff"},{"offset":0.6,"color":"#fff"},
                  {"offset":0.6,"color":"#acd093"},{"offset":0.612,"color":"#acd093"},{"offset":0.612,"color":"#fff"},{"offset":0.64,"color":"#fff"},
                  {"offset":0.64,"color":"#acd093"},{"offset":0.652,"color":"#acd093"},{"offset":0.652,"color":"#fff"},{"offset":0.68,"color":"#fff"},
                  {"offset":0.68,"color":"#acd093"},{"offset":0.692,"color":"#acd093"},{"offset":0.692,"color":"#fff"},{"offset":0.72,"color":"#fff"},
                  {"offset":0.72,"color":"#acd093"},{"offset":0.732,"color":"#acd093"},{"offset":0.732,"color":"#fff"},{"offset":0.76,"color":"#fff"},
                  {"offset":0.76,"color":"#acd093"},{"offset":0.772,"color":"#acd093"},{"offset":0.772,"color":"#fff"},{"offset":0.8,"color":"#fff"},
                  {"offset":0.8,"color":"#acd093"},{"offset":0.812,"color":"#acd093"},{"offset":0.812,"color":"#fff"},{"offset":0.84,"color":"#fff"},
                  {"offset":0.84,"color":"#acd093"},{"offset":0.852,"color":"#acd093"},{"offset":0.852,"color":"#fff"},{"offset":0.88,"color":"#fff"},
                  {"offset":0.88,"color":"#acd093"},{"offset":0.892,"color":"#acd093"},{"offset":0.892,"color":"#fff"},{"offset":0.92,"color":"#fff"},
                  {"offset":0.92,"color":"#acd093"},{"offset":0.932,"color":"#acd093"},{"offset":0.932,"color":"#fff"},{"offset":0.96,"color":"#fff"},
                  {"offset":0.96,"color":"#acd093"},{"offset":0.972,"color":"#acd093"},{"offset":0.972,"color":"#fff"},{"offset":1,"color":"#fff"}
                ]}}
              ],
              "legend": {
                "title": null, "orient": "none", "legendX": 296, "legendY": 60, "direction": "vertical",
                "symbolType": "square", "symbolSize": 100, "symbolStrokeColor": "#000000", "symbolStrokeWidth": 1,
                "labelFontSize": 17, "labelColor": "#262626", "labelOffset": 1, "rowPadding": 3
              }
            }
          }
        },
        {
          "mark": {"type": "text", "fontSize": 17, "color": "#595959"},
          "encoding": {
            "y": {"field": "v", "type": "quantitative", "stack": "zero", "bandPosition": 0.5, "title": null},
            "order": {"field": "series", "type": "nominal", "sort": "ascending"},
            "detail": {"field": "series", "type": "nominal"},
            "text": {"field": "v", "type": "quantitative"}
          }
        }
      ]
    }
  ]
}
